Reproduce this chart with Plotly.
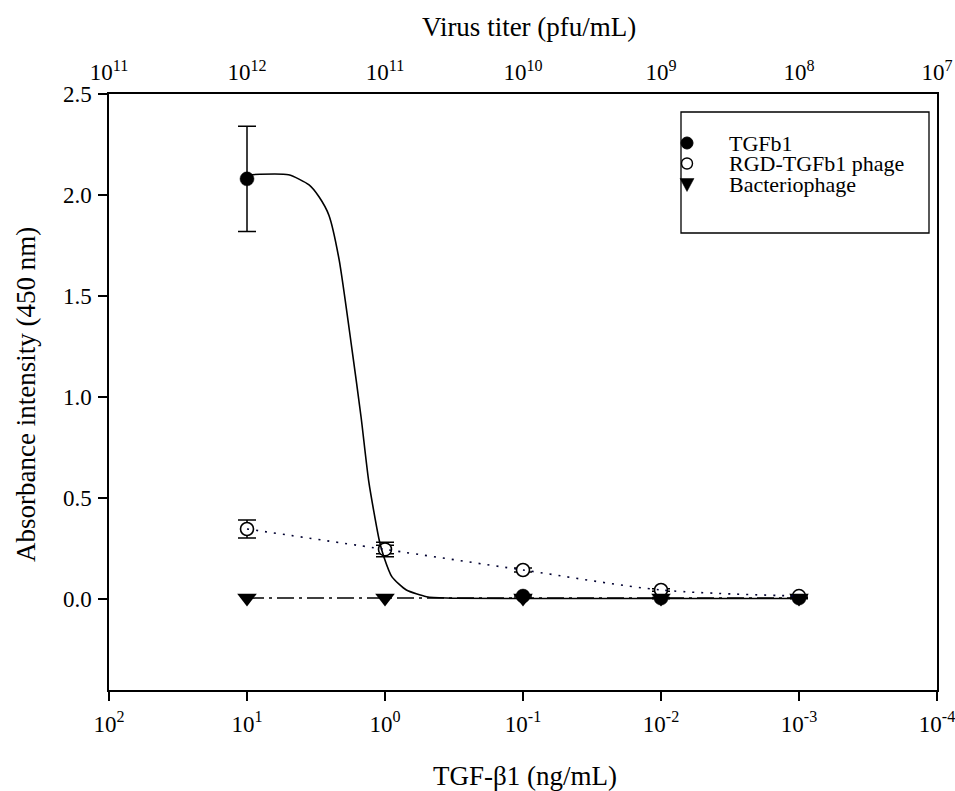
import plotly.graph_objects as go

# ---------------- data ----------------
conc = [10, 1, 0.1, 0.01, 0.001]                # TGF-b1 (ng/mL)
tgfb1 = [2.08, 0.245, 0.015, 0.005, 0.005]
tgfb1_err = [0.26, 0.036, 0.005, 0.003, 0.003]
tgfb1_marker_visible = [1, 0, 1, 1, 1]           # point at 1 ng/mL hidden behind open circle
rgd = [0.347, 0.246, 0.144, 0.045, 0.015]
rgd_err = [0.045, 0.021, 0.010, 0.006, 0.005]
phage = [0.005, 0.005, 0.005, 0.005, 0.005]

# fitted TGFb1 curve
fit_x = [10, 5.0, 3.55, 3.0, 2.55, 2.15, 1.73, 1.49, 1.31, 1.10, 1.02, 0.89,
         0.70, 0.50, 0.36, 0.1, 0.001]
fit_y = [2.10, 2.10, 2.05, 1.99, 1.90, 1.68, 1.23, 0.90, 0.58, 0.29, 0.21, 0.11,
         0.045, 0.012, 0.005, 0.003, 0.003]

bottom_tickvals = [100, 10, 1, 0.1, 0.01, 0.001, 0.0001]
bottom_ticktext = ["10<sup>2</sup>", "10<sup>1</sup>", "10<sup>0</sup>", "10<sup>-1</sup>",
                   "10<sup>-2</sup>", "10<sup>-3</sup>", "10<sup>-4</sup>"]
top_ticktext = ["10<sup>11</sup>", "10<sup>12</sup>", "10<sup>11</sup>", "10<sup>10</sup>",
                "10<sup>9</sup>", "10<sup>8</sup>", "10<sup>7</sup>"]
y_tickvals = [0.0, 0.5, 1.0, 1.5, 2.0, 2.5]

legend_names = ["TGFb1", "RGD-TGFb1 phage", "Bacteriophage"]

FONT = "Liberation Serif, Times New Roman, serif"
TICK = 23
TITLE = 27
LEG = 22

fig = go.Figure()

# markers (TGFb1 first, RGD over it, phage over both)
fig.add_trace(go.Scatter(
    x=conc, y=tgfb1, mode="markers", name=legend_names[0], showlegend=False,
    marker=dict(symbol="circle", size=[14 * v for v in tgfb1_marker_visible],
                color="#000000", opacity=1, line=dict(width=0.5, color="#000000")),
    error_y=dict(type="data", array=tgfb1_err, color="black", thickness=1.5, width=9),
))
fig.add_trace(go.Scatter(
    x=conc, y=rgd, mode="markers", name=legend_names[1], showlegend=False,
    marker=dict(symbol="circle", size=13, color="white", opacity=1,
                line=dict(width=1.6, color="black")),
    error_y=dict(type="data", array=rgd_err, color="black", thickness=1.5, width=9),
))
fig.add_trace(go.Scatter(
    x=conc, y=phage, mode="markers", name=legend_names[2], showlegend=False,
    marker=dict(symbol="triangle-down", size=17, color="black", opacity=1, line=dict(width=0)),
))

# lines
fig.add_trace(go.Scatter(
    x=fit_x, y=fit_y, mode="lines", showlegend=False, hoverinfo="skip",
    line=dict(color="black", width=1.6, shape="spline", smoothing=0.6),
))
fig.add_trace(go.Scatter(
    x=conc, y=rgd, mode="lines", showlegend=False, hoverinfo="skip",
    line=dict(color="#000030", width=1.6, dash="2px,7px", shape="spline", smoothing=0.8),
))
fig.add_trace(go.Scatter(
    x=conc, y=phage, xaxis="x2", mode="lines", showlegend=False, hoverinfo="skip",
    line=dict(color="black", width=1.5, dash="17px,5px,3px,5px"),
))

fig.update_layout(
    width=955, height=791, autosize=False,
    margin=dict(l=109, r=18, t=94, b=101, autoexpand=False),
    paper_bgcolor="white", plot_bgcolor="white",
    font=dict(family=FONT, size=TICK, color="black"),
    showlegend=False,
    xaxis=dict(
        type="log", range=[2, -4], tickvals=bottom_tickvals, ticktext=bottom_ticktext,
        showgrid=False, zeroline=False, showline=True, linecolor="black", linewidth=2,
        mirror=True, ticks="outside", ticklen=9, tickwidth=1.5, tickcolor="black",
        tickfont=dict(family=FONT, size=TICK), ticklabelstandoff=3, automargin=False,
        ticklabeloverflow="allow",
    ),
    xaxis2=dict(
        type="log", range=[2, -4], overlaying="x", side="top", anchor="y",
        tickvals=bottom_tickvals, ticktext=top_ticktext,
        showgrid=False, zeroline=False, showline=False, ticks="",
        tickfont=dict(family=FONT, size=TICK), ticklabelstandoff=8, automargin=False,
        ticklabeloverflow="allow",
    ),
    yaxis=dict(
        range=[-0.45, 2.5], tickvals=y_tickvals, tickformat=".1f",
        showgrid=False, zeroline=False, showline=True, linecolor="black", linewidth=1.5,
        mirror=True, ticks="outside", ticklen=9, tickwidth=1.5, tickcolor="black",
        tickfont=dict(family=FONT, size=TICK), ticklabelstandoff=2, automargin=False,
    ),
)

# axis titles
fig.add_annotation(text="Virus titer (pfu/mL)", xref="paper", yref="paper",
                   x=0.507, y=1, yshift=67, yanchor="middle", showarrow=False, borderpad=0,
                   font=dict(family=FONT, size=TITLE))
fig.add_annotation(text="TGF-β1 (ng/mL)", xref="paper", yref="paper",
                   x=0.503, y=0, yshift=-86, yanchor="middle", showarrow=False, borderpad=0,
                   font=dict(family=FONT, size=TITLE))
fig.add_annotation(text="Absorbance intensity (450 nm)", xref="paper", yref="paper",
                   x=0, xshift=-83, y=0.495, xanchor="center", yanchor="middle",
                   textangle=-90, showarrow=False, borderpad=0, font=dict(family=FONT, size=TITLE))

# manual legend box
PW, PH, L, B = 828, 596, 109, 690
def px(xp):
    return (xp - L) / PW
def py(yp):
    return (B - yp) / PH

fig.add_shape(type="rect", xref="paper", yref="paper",
              x0=px(681), x1=px(929), y0=py(233), y1=py(112),
              line=dict(color="black", width=1.3), fillcolor="rgba(0,0,0,0)")
rows = [143, 163.5, 184.5]
gx = px(687)
fig.add_shape(type="circle", xref="paper", yref="paper", xsizemode="pixel", ysizemode="pixel",
              xanchor=gx, yanchor=py(rows[0]), x0=-6, x1=6, y0=-6, y1=6,
              fillcolor="black", line=dict(color="black", width=1))
fig.add_shape(type="circle", xref="paper", yref="paper", xsizemode="pixel", ysizemode="pixel",
              xanchor=gx, yanchor=py(rows[1]), x0=-5.5, x1=5.5, y0=-5.5, y1=5.5,
              fillcolor="white", line=dict(color="black", width=1.4))
fig.add_shape(type="path", xref="paper", yref="paper", xsizemode="pixel", ysizemode="pixel",
              xanchor=gx, yanchor=py(rows[2]), path="M -7 6 L 7 6 L 0 -7 Z",
              fillcolor="black", line=dict(color="black", width=0.5))
for name, r in zip(legend_names, rows):
    fig.add_annotation(text=name, xref="paper", yref="paper", x=px(728), y=py(r),
                       xanchor="left", yanchor="middle", showarrow=False, borderpad=0,
                       font=dict(family=FONT, size=LEG))

fig.write_html(
    "out.html",
    config={"responsive": False, "displayModeBar": False},
    post_script="document.body.style.margin='0';document.body.style.overflow='hidden';",
)
